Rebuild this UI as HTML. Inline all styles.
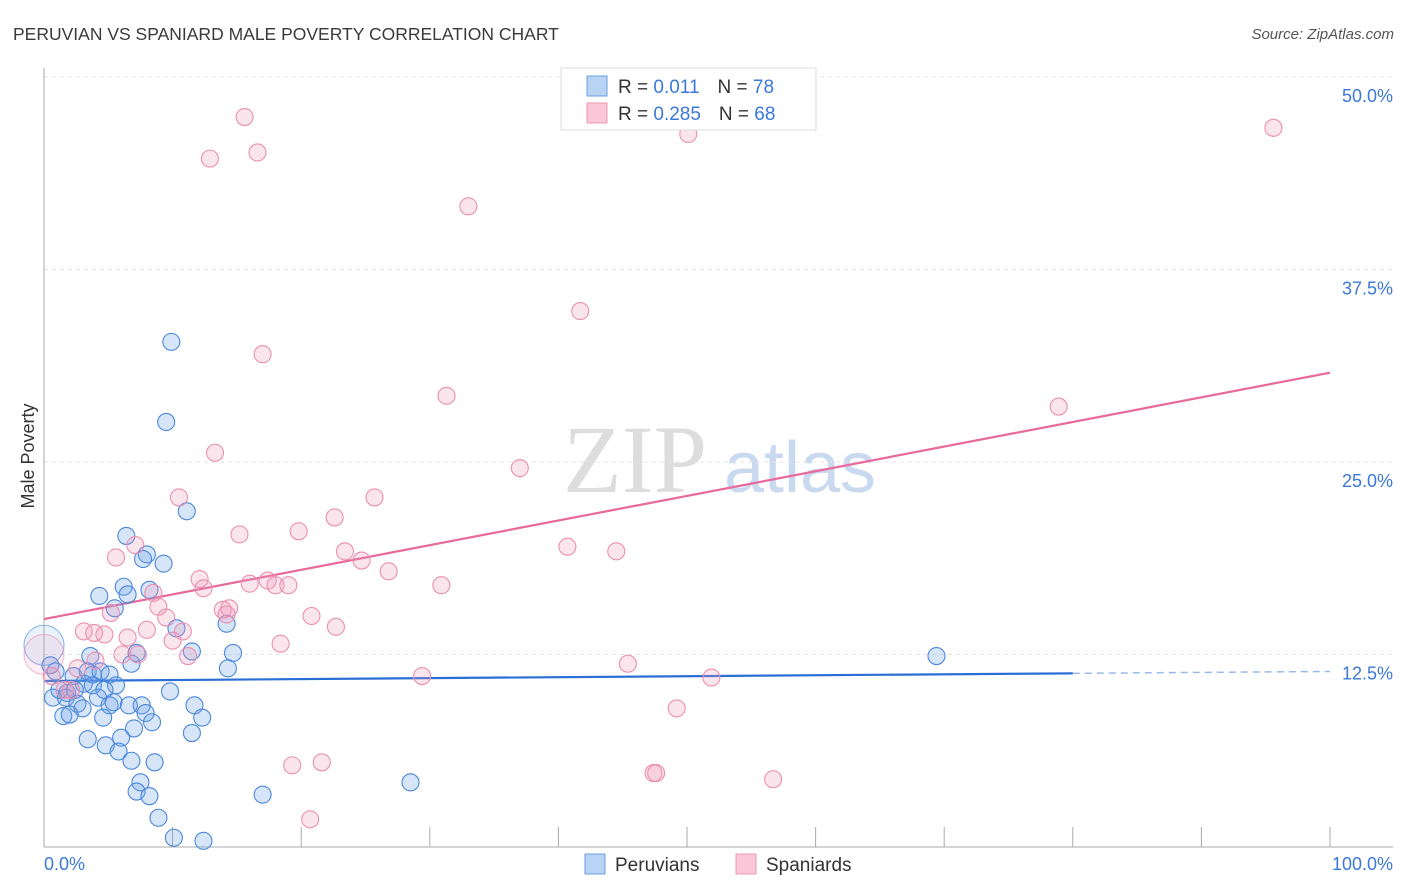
<!DOCTYPE html>
<html><head><meta charset="utf-8"><style>
body{margin:0;background:#fff;font-family:"Liberation Sans",sans-serif;}
svg{display:block}
</style></head><body>
<svg id="chart" width="1406" height="892" xmlns="http://www.w3.org/2000/svg">
<text x="13" y="40" font-size="17.5" fill="#3a3a3a" font-family="Liberation Sans, sans-serif">PERUVIAN VS SPANIARD MALE POVERTY CORRELATION CHART</text>
<text x="1394" y="39" font-size="15" fill="#555" text-anchor="end" font-style="italic" font-family="Liberation Sans, sans-serif">Source: ZipAtlas.com</text>
<g>
<text x="635" y="492" font-size="96" fill="#ddd" text-anchor="middle" font-family="Liberation Serif, serif">ZIP</text>
<text x="800" y="492" font-size="72" fill="#c9daf0" text-anchor="middle" font-family="Liberation Sans, sans-serif">atlas</text>
</g>
<g id="grid"></g>
<g id="axes"></g>
<g id="lines"></g>
<g id="points"></g>
<text transform="translate(34,456) rotate(-90)" font-size="18" fill="#333" text-anchor="middle" font-family="Liberation Sans, sans-serif">Male Poverty</text>
<text x="44" y="870" font-size="18" fill="#3b78d8" font-family="Liberation Sans, sans-serif">0.0%</text>
<text x="1393" y="870" font-size="18" fill="#3b78d8" text-anchor="end" font-family="Liberation Sans, sans-serif">100.0%</text>
<g>
<rect x="561" y="68" width="255" height="62" fill="#fff" stroke="#ddd"/>
<rect x="587" y="76" width="20" height="20" fill="#b9d3f5" stroke="#6a9fe3"/>
<rect x="587" y="103" width="20" height="20" fill="#f9c7d7" stroke="#ec9ab5"/>
<text x="618" y="93" font-size="19" fill="#333">R = <tspan fill="#3b78d8"> 0.011</tspan><tspan dx="18">N = </tspan><tspan fill="#3b78d8">78</tspan></text>
<text x="618" y="120" font-size="19" fill="#333">R = <tspan fill="#3b78d8">0.285</tspan><tspan dx="18">N = </tspan><tspan fill="#3b78d8">68</tspan></text>
</g>
<g>
<rect x="585" y="854" width="20" height="20" fill="#b9d3f5" stroke="#6a9fe3"/>
<text x="615" y="871" font-size="19" fill="#333">Peruvians</text>
<rect x="736" y="854" width="20" height="20" fill="#f9c7d7" stroke="#ec9ab5"/>
<text x="766" y="871" font-size="19" fill="#333">Spaniards</text>
</g>
</svg>
<script>
const yTicks=[12.5,25,37.5,50];
const yTickLabels=["12.5%","25.0%","37.5%","50.0%"];
const xTicks=[0,10,20,30,40,50,60,70,80,90,100];
const peruX=[9.9,9.5,11.1,6.4,8.0,7.7,9.3,6.2,8.2,4.3,6.5,5.5,14.2,10.3,11.5,14.7,7.2,3.6,6.8,14.3,69.4,0,0.5,0.9,2.3,3.4,3.8,4.4,5.1,3.1,3.8,5.6,1.2,1.8,2.4,0.7,1.7,4.7,9.8,4.2,2.6,3.0,5.1,5.4,6.6,7.6,11.7,1.5,2.0,4.6,7.9,12.3,8.4,7.0,11.5,3.4,6.0,4.8,5.8,6.8,8.6,7.5,7.2,8.2,17.0,28.5,8.9,10.1,12.4];
const peruY=[32.8,27.6,21.8,20.2,19.0,18.7,18.4,16.9,16.7,16.3,16.4,15.5,14.5,14.2,12.7,12.6,12.6,12.4,11.9,11.6,12.4,13.1,11.8,11.4,11.1,11.4,11.2,11.4,11.2,10.6,10.5,10.5,10.2,10.0,10.2,9.7,9.7,10.2,10.1,9.7,9.3,9.0,9.2,9.4,9.2,9.2,9.2,8.5,8.6,8.4,8.7,8.4,8.1,7.7,7.4,7.0,7.1,6.6,6.2,5.6,5.5,4.2,3.6,3.3,3.4,4.2,1.9,0.6,0.4];
const spanX=[15.6,12.9,16.6,50.1,95.6,33.0,41.7,17.0,31.3,78.9,13.3,37.0,10.5,25.7,22.6,19.8,15.2,40.7,44.5,7.1,5.6,23.4,24.7,26.8,12.1,17.4,16.0,18.0,19.0,12.4,30.9,8.5,8.9,14.4,13.9,14.2,5.2,9.5,20.8,22.7,8.0,10.8,3.1,3.9,4.7,6.5,10.0,18.4,0,7.3,6.1,11.2,4.0,2.6,45.4,29.4,51.9,0.6,1.6,2.1,49.2,19.3,21.6,47.4,47.6,56.7,20.7];
const spanY=[47.4,44.7,45.1,46.3,46.7,41.6,34.8,32.0,29.3,28.6,25.6,24.6,22.7,22.7,21.4,20.5,20.3,19.5,19.2,19.6,18.8,19.2,18.6,17.9,17.4,17.3,17.1,17.0,17.0,16.8,17.0,16.5,15.6,15.5,15.4,15.1,15.2,14.9,15.0,14.3,14.1,14.0,14.0,13.9,13.8,13.6,13.4,13.2,12.5,12.5,12.5,12.4,12.1,11.6,11.9,11.1,11.0,11.1,10.2,10.2,9.0,5.3,5.5,4.8,4.8,4.4,1.8];
const peruTrend=[10.78,11.4];
const spanTrend=[14.8,30.8];
const NS="http://www.w3.org/2000/svg";
const X=v=>44+v*12.86;
const Y=v=>847-v*15.4;
function mk(tag,attrs,parent){const e=document.createElementNS(NS,tag);for(const k in attrs)e.setAttribute(k,attrs[k]);document.getElementById(parent).appendChild(e);return e;}
yTicks.forEach((t,i)=>{
 const g=mk('line',{x1:44,x2:1393,y1:Y(t),y2:Y(t),stroke:'#e4e4e4','stroke-dasharray':'4,4'},'grid');
 
 
 const l=mk('text',{x:1393,y:Y(t)+25,'font-size':18,fill:'#3b78d8','text-anchor':'end','font-family':'Liberation Sans, sans-serif'},'axes');
 l.textContent=yTickLabels[i];
 
 
});
const ya=mk('line',{x1:44,x2:44,y1:68,y2:847,stroke:'#aaa'},'axes');


const xa=mk('line',{x1:44,x2:1393,y1:847,y2:847,stroke:'#aaa'},'axes');


xTicks.forEach(t=>{
 const k=mk('line',{x1:X(t),x2:X(t),y1:827,y2:847,stroke:'#aaa'},'axes');
 
 
});
function trend(tr,xEnd,color,name){
 const f=x=>tr[0]+(tr[1]-tr[0])*x/100;
 const l=mk('line',{x1:X(0),y1:Y(f(0)),x2:X(xEnd),y2:Y(f(xEnd)),stroke:color,'stroke-width':2.2},'lines');
 
 
 return f;
}
const pf=trend(peruTrend,80,'#2a6fd6','peruvians-trend-line');
const d=mk('line',{x1:X(80),y1:Y(pf(80)),x2:X(100),y2:Y(pf(100)),stroke:'#9bb9e6','stroke-width':1.5,'stroke-dasharray':'7,5'},'lines');


trend(spanTrend,100,'#e8699a','spaniards-trend-line');
function pts(xs,ys,fill,bigFill,stroke,name){
 xs.forEach((x,i)=>{
  const big=(x===0);
  const c=mk('circle',{cx:X(x),cy:Y(ys[i]),r:big?20:8.5,fill:big?bigFill:fill,stroke:stroke,'stroke-width':1.1,'stroke-opacity':big?0.6:1},'points');
  
  
 });
}
pts(peruX,peruY,'rgba(110,160,230,0.28)','rgba(110,160,230,0.15)','#4a88dc','peruvian-point');
pts(spanX,spanY,'rgba(240,150,185,0.25)','rgba(240,150,185,0.15)','#eb8fb0','spaniard-point');
</script>
</body></html>
